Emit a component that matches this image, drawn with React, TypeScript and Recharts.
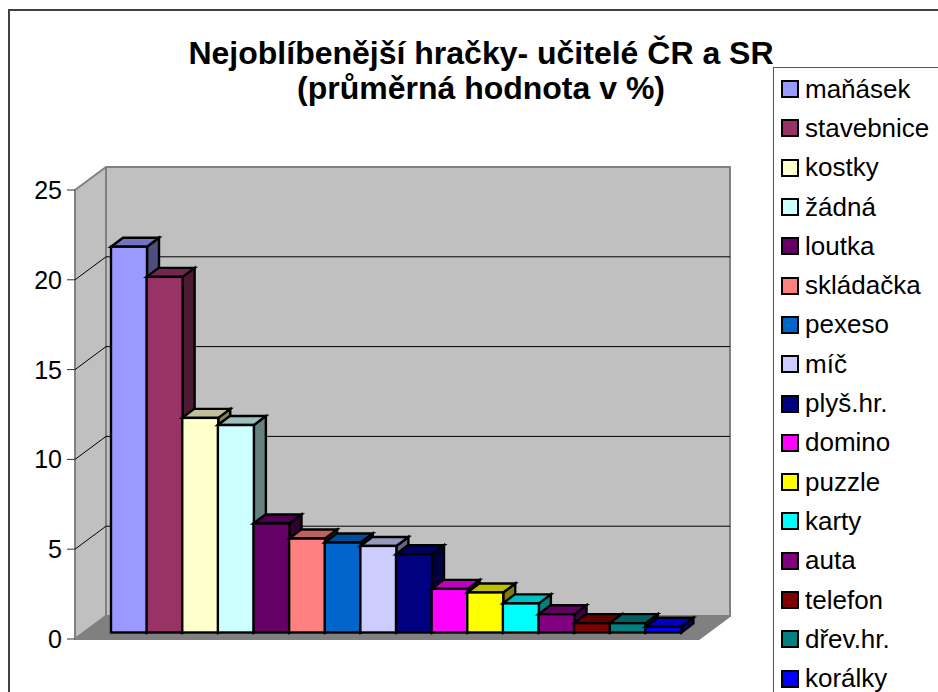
import { BarChart, Bar, XAxis, YAxis, CartesianGrid, Legend } from 'recharts';

const categories = ['maňásek', 'stavebnice', 'kostky', 'žádná', 'loutka', 'skládačka', 'pexeso', 'míč', 'plyš.hr.', 'domino', 'puzzle', 'karty', 'auta', 'telefon', 'dřev.hr.', 'korálky'];
const values = [21.48, 19.8, 11.95, 11.55, 6.07, 5.23, 5.01, 4.82, 4.36, 2.43, 2.23, 1.62, 1.02, 0.52, 0.52, 0.32];
const colors = ['#9999FF', '#993366', '#FFFFCC', '#CCFFFF', '#660066', '#FF8080', '#0066CC', '#CCCCFF', '#000080', '#FF00FF', '#FFFF00', '#00FFFF', '#800080', '#800000', '#008080', '#0000FF'];
const yTicks = [0, 5, 10, 15, 20, 25];

const chartData = categories.map((name, i) => ({ name, value: values[i] }));

const FONT = '"Liberation Sans", Arial, sans-serif';
const LEFT = 75;
const RIGHT = 699;
const TOP = 190;
const BOTTOM = 639;
// 3D offsets: wall depth, bar depth, and how far bars sit behind the front plane
const WALL_DX = 31;
const WALL_DY = 23;
const BAR_DX = 12;
const BAR_DY = 9;
const BAR_LIFT = 6.5;

const shade = (hex: string, k: number) => {
  const n = parseInt(hex.slice(1), 16);
  const c = [(n >> 16) & 255, (n >> 8) & 255, n & 255].map((v) => Math.round(v * k));
  return `rgb(${c[0]},${c[1]},${c[2]})`;
};

// sits in its own svg behind the chart, recharts puts grid lines below plain children
function Walls() {
  const floor = `${LEFT},${BOTTOM} ${LEFT + WALL_DX},${BOTTOM - WALL_DY} ${RIGHT + WALL_DX},${BOTTOM - WALL_DY} ${RIGHT},${BOTTOM}`;
  return (
    <svg width={938} height={692} style={{ position: 'absolute', left: 0, top: 0 }}>
      <g stroke="#808080" strokeWidth={2} strokeLinejoin="round">
        <polygon points={`${LEFT},${TOP} ${LEFT + WALL_DX},${TOP - WALL_DY} ${LEFT + WALL_DX},${BOTTOM - WALL_DY} ${LEFT},${BOTTOM}`} fill="#C0C0C0" />
        <rect x={LEFT + WALL_DX} y={TOP - WALL_DY} width={RIGHT - LEFT} height={BOTTOM - TOP} fill="#C0C0C0" />
        <polygon points={floor} fill="#808080" />
      </g>
    </svg>
  );
}

function gridLine(props: any) {
  const { y1, key } = props;
  if (y1 <= TOP + 1 || y1 >= BOTTOM - 1) return <g key={key} />;
  return (
    <path
      key={key}
      d={`M${LEFT},${y1} L${LEFT + WALL_DX},${y1 - WALL_DY} L${RIGHT + WALL_DX},${y1 - WALL_DY}`}
      stroke="#000"
      strokeWidth={1}
      fill="none"
    />
  );
}

function YTick({ y, payload }: any) {
  return (
    <g>
      <line x1={LEFT - 8} x2={LEFT} y1={y} y2={y} stroke="#333" strokeWidth={1} />
      <text x={LEFT - 13} y={y} dy={9} textAnchor="end" fontFamily={FONT} fontSize={25} fill="#000">
        {payload.value}
      </text>
    </g>
  );
}

function Bar3D({ x, y, width, height, index }: any) {
  const color = colors[index];
  const top = y - BAR_LIFT;
  const r = x + width;
  return (
    <g stroke="#000" strokeWidth={2.4} strokeLinejoin="miter">
      <polygon points={`${r},${top} ${r + BAR_DX},${top - BAR_DY} ${r + BAR_DX},${top + height - BAR_DY} ${r},${top + height}`} fill={shade(color, 0.5)} />
      <polygon points={`${x},${top} ${x + BAR_DX},${top - BAR_DY} ${r + BAR_DX},${top - BAR_DY} ${r},${top}`} fill={shade(color, 0.75)} />
      <rect x={x} y={top} width={width} height={height} fill={color} />
    </g>
  );
}

function LegendBox() {
  return (
    <div style={{ boxSizing: 'border-box', width: 165, height: 625, borderLeft: '1px solid #555', borderTop: '1px solid #555', background: '#fff', paddingTop: 1.5 }}>
      {categories.map((name, i) => (
        <div key={name} style={{ display: 'flex', alignItems: 'center', height: 39.3, paddingLeft: 7, fontFamily: FONT, fontSize: 26, color: '#000', lineHeight: '39px' }}>
          <span style={{ boxSizing: 'border-box', width: 18, height: 18, border: '2px solid #000', background: colors[i], marginRight: 6, flex: 'none' }} />
          {name}
        </div>
      ))}
    </div>
  );
}

export default function App() {
  return (
    <div style={{ position: 'absolute', left: 0, top: 0, width: 938, height: 692, overflow: 'hidden', background: '#fff' }}>
      <div style={{ position: 'absolute', left: 8, top: 9, width: 1000, height: 800, borderLeft: '2px solid #404040', borderTop: '2px solid #404040' }} />
      <div style={{ position: 'absolute', left: 0, width: 962, top: 36, textAlign: 'center', fontFamily: FONT, fontWeight: 'bold', fontSize: 32, lineHeight: '35px', color: '#000' }}>
        Nejoblíbenější hračky- učitelé ČR a SR
        <br />
        (průměrná hodnota v %)
      </div>
      <Walls />
      <BarChart
        width={938}
        height={692}
        data={chartData}
        barCategoryGap={0}
        margin={{ top: TOP, bottom: 692 - BOTTOM, left: 0, right: 938 - RIGHT - 165 }}
        style={{ position: 'absolute', left: 0, top: 0 }}
      >
        <CartesianGrid vertical={false} horizontal={gridLine} />
        <XAxis dataKey="name" hide padding={{ left: 36, right: 18 }} />
        <YAxis width={LEFT} domain={[0, 25]} ticks={yTicks} axisLine={false} tickLine={false} tick={YTick} interval={0} />
        <Legend
          layout="vertical"
          align="right"
          verticalAlign="top"
          width={165}
          content={() => <LegendBox />}
          wrapperStyle={{ position: 'absolute', left: 773, top: 67, width: 165 }}
        />
        <Bar dataKey="value" isAnimationActive={false} shape={Bar3D} />
      </BarChart>
    </div>
  );
}
